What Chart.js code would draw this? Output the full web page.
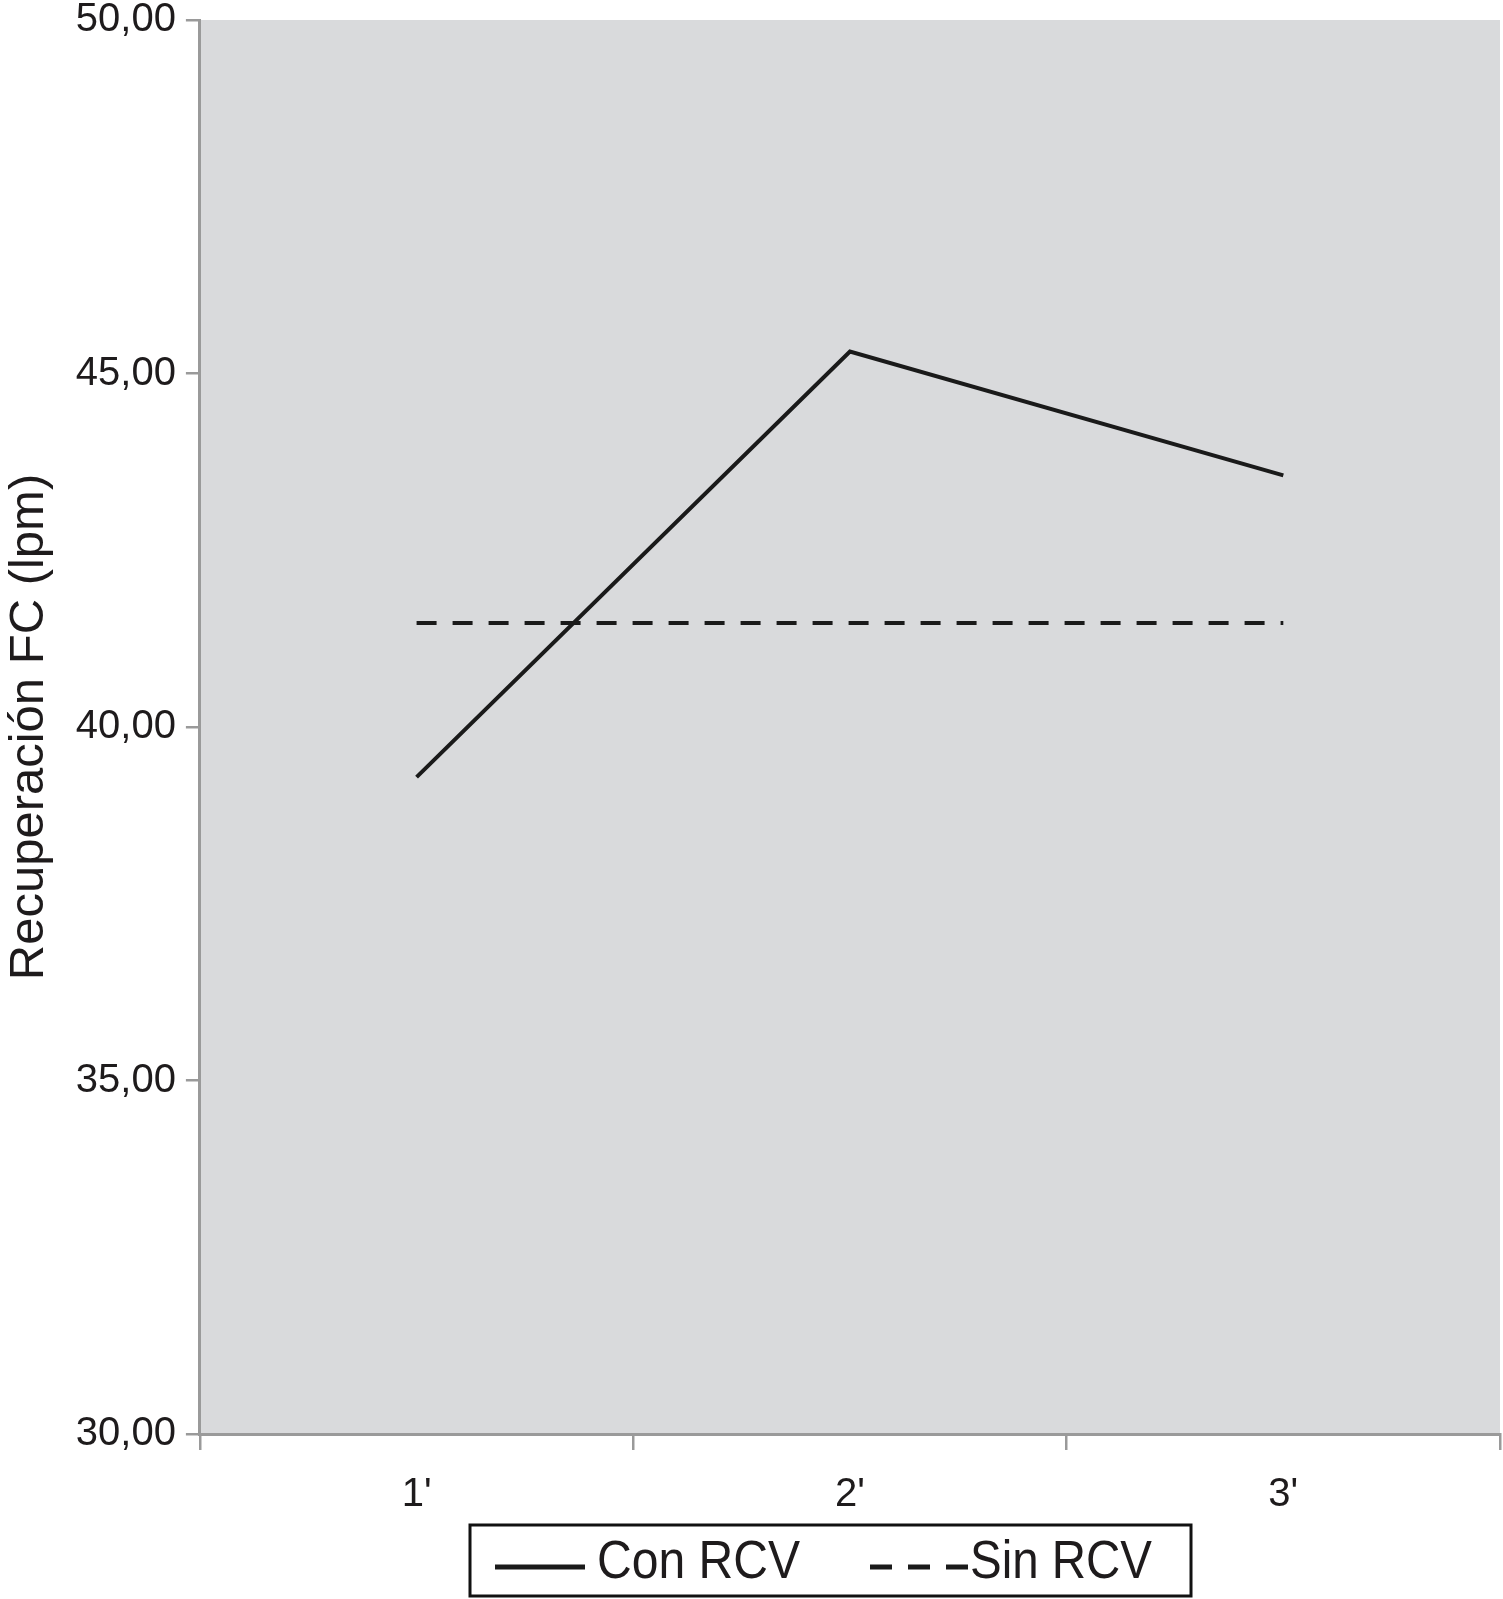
<!DOCTYPE html>
<html>
<head>
<meta charset="utf-8">
<script src="https://cdn.jsdelivr.net/npm/chart.js@4.4.1/dist/chart.umd.min.js"></script>
<style>
  html, body { margin: 0; padding: 0; background: #fff; }
</style>
</head>
<body>
<canvas id="myChart" width="1503" height="1599"></canvas>
<script>
// minutes after exercise
var minutes = ["1'", "2'", "3'"];

// heart rate recovery (lpm)
var conRCV = [39.29, 45.31, 43.56];
var sinRCV = [41.47, 41.47, 41.47];
var seriesNames = ["Con RCV", "Sin RCV"];

// y axis ticks
var yTicks = [30, 35, 40, 45, 50];

var axisGrey = '#9a9a9a';
var textColor = '#1e1b1c';

// grey plot background
const plotBg = {
  id: 'plotBg',
  beforeDraw(chart) {
    const ctx = chart.ctx, a = chart.chartArea;
    ctx.save();
    ctx.fillStyle = '#d9dadc';
    ctx.fillRect(a.left, a.top, a.right - a.left, a.bottom - a.top);
    ctx.restore();
  }
};

// legend in a framed box under the axis
const boxedLegend = {
  id: 'boxedLegend',
  afterDraw(chart) {
    const ctx = chart.ctx;
    const slots = [
      { x0: 495, x1: 585, tx: 597, tw: 203 },
      { x0: 870, x1: 968, tx: 970, tw: 182 }
    ];
    const cy = 1567;
    ctx.save();
    ctx.strokeStyle = '#111';
    ctx.lineWidth = 3;
    ctx.strokeRect(470, 1525, 721, 71);
    chart.data.datasets.forEach(function(ds, i) {
      const s = slots[i];
      ctx.setLineDash(ds.borderDash ? [22, 16] : []);
      ctx.strokeStyle = ds.borderColor;
      ctx.lineWidth = 5;
      ctx.beginPath();
      ctx.moveTo(s.x0, cy);
      ctx.lineTo(s.x1, cy);
      ctx.stroke();
      ctx.setLineDash([]);
      ctx.fillStyle = textColor;
      ctx.font = '53px "Liberation Sans", Arial, sans-serif';
      ctx.textBaseline = 'middle';
      ctx.fillText(ds.label, s.tx, cy - 4, s.tw);
    });
    ctx.restore();
  }
};

const data = {
  labels: minutes,
  datasets: [{
    label: seriesNames[0],
    data: conRCV,
    borderColor: '#1a1a1a',
    borderWidth: 4,
    pointRadius: 0,
    tension: 0
  }, {
    label: seriesNames[1],
    data: sinRCV,
    borderColor: '#1a1a1a',
    borderWidth: 4,
    borderDash: [20, 16],
    pointRadius: 0,
    tension: 0
  }]
};

const config = {
  type: 'line',
  data: data,
  plugins: [plotBg, boxedLegend],
  options: {
    responsive: false,
    animation: false,
    layout: { padding: { top: 0, right: 3, bottom: 59, left: 0 } },
    plugins: {
      legend: { display: false },
      tooltip: { enabled: false }
    },
    scales: {
      x: {
        type: 'category',
        offset: true,
        grid: {
          offset: true,
          drawOnChartArea: false,
          drawTicks: true,
          tickLength: 16,
          color: axisGrey,
          lineWidth: 2.5
        },
        border: { display: true, color: axisGrey, width: 3 },
        ticks: {
          color: textColor,
          padding: 21,
          font: { family: '"Liberation Sans", Arial, sans-serif', size: 40 }
        }
      },
      y: {
        min: yTicks[0],
        max: yTicks[yTicks.length - 1],
        afterBuildTicks: function(scale) {
          scale.ticks = yTicks.map(function(v) { return { value: v }; });
        },
        grid: {
          drawOnChartArea: false,
          drawTicks: true,
          tickLength: 14,
          color: axisGrey,
          lineWidth: 2.5
        },
        border: { display: true, color: axisGrey, width: 3 },
        ticks: {
          color: textColor,
          padding: 10,
          font: { family: '"Liberation Sans", Arial, sans-serif', size: 40, lineHeight: 0.5 },
          callback: function(v) { return Number(v).toFixed(2).replace('.', ','); }
        },
        title: {
          display: true,
          text: 'Recuperación FC (lpm)',
          color: textColor,
          padding: { top: 0, bottom: 7 },
          font: { family: '"Liberation Sans", Arial, sans-serif', size: 49 }
        }
      }
    }
  }
};

var canvas = document.getElementById('myChart');
const lineChart = new Chart(canvas, config);
</script>
</body>
</html>
